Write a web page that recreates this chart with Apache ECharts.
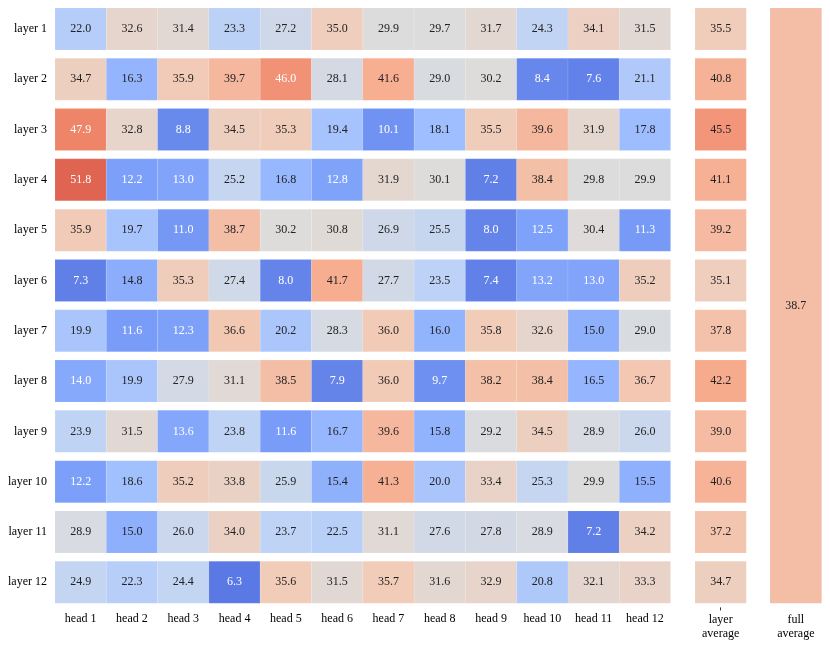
<!DOCTYPE html>
<html>
<head>
<meta charset="utf-8">
<script src="https://cdn.jsdelivr.net/npm/echarts@6/dist/echarts.min.js"></script>
<style>html,body{margin:0;padding:0;background:#fff;}#c{width:830px;height:645px;}</style>
</head>
<body>
<div id="c"></div>
<script>
const heads = ['head 1','head 2','head 3','head 4','head 5','head 6','head 7','head 8','head 9','head 10','head 11','head 12'];
const layers = ['layer 1','layer 2','layer 3','layer 4','layer 5','layer 6','layer 7','layer 8','layer 9','layer 10','layer 11','layer 12'];
const values = [
  [22.0, 32.6, 31.4, 23.3, 27.2, 35.0, 29.9, 29.7, 31.7, 24.3, 34.1, 31.5],
  [34.7, 16.3, 35.9, 39.7, 46.0, 28.1, 41.6, 29.0, 30.2, 8.4, 7.6, 21.1],
  [47.9, 32.8, 8.8, 34.5, 35.3, 19.4, 10.1, 18.1, 35.5, 39.6, 31.9, 17.8],
  [51.8, 12.2, 13.0, 25.2, 16.8, 12.8, 31.9, 30.1, 7.2, 38.4, 29.8, 29.9],
  [35.9, 19.7, 11.0, 38.7, 30.2, 30.8, 26.9, 25.5, 8.0, 12.5, 30.4, 11.3],
  [7.3, 14.8, 35.3, 27.4, 8.0, 41.7, 27.7, 23.5, 7.4, 13.2, 13.0, 35.2],
  [19.9, 11.6, 12.3, 36.6, 20.2, 28.3, 36.0, 16.0, 35.8, 32.6, 15.0, 29.0],
  [14.0, 19.9, 27.9, 31.1, 38.5, 7.9, 36.0, 9.7, 38.2, 38.4, 16.5, 36.7],
  [23.9, 31.5, 13.6, 23.8, 11.6, 16.7, 39.6, 15.8, 29.2, 34.5, 28.9, 26.0],
  [12.2, 18.6, 35.2, 33.8, 25.9, 15.4, 41.3, 20.0, 33.4, 25.3, 29.9, 15.5],
  [28.9, 15.0, 26.0, 34.0, 23.7, 22.5, 31.1, 27.6, 27.8, 28.9, 7.2, 34.2],
  [24.9, 22.3, 24.4, 6.3, 35.6, 31.5, 35.7, 31.6, 32.9, 20.8, 32.1, 33.3]
];
const layerAverage = [35.5, 40.8, 45.5, 41.1, 39.2, 35.1, 37.8, 42.2, 39.0, 40.6, 37.2, 34.7];
const fullAverage = 38.7;
const layerAvgLabel = ['layer\naverage'];
const fullAvgLabel = ['full\naverage'];

const FONT = '"Liberation Serif", "DejaVu Serif", serif';
const GAP = 8.3;

const mainData = [];
values.forEach((row, r) => row.forEach((v, c) => mainData.push([c, r, v])));
const avgData = layerAverage.map((v, r) => [0, r, v]);
const fullData = [[0, 0, fullAverage]];

function renderCell(params, api) {
  const x = api.value(0), y = api.value(1), v = api.value(2);
  const p = api.coord([x, y]);
  const s = api.size([1, 1]);
  const w = s[0], h = s[1] - GAP;
  const txtColor = (v < 14.4 || v > 45.8) ? '#ffffff' : '#222222';
  return {
    type: 'group',
    children: [
      { type: 'rect', shape: { x: p[0] - w / 2, y: p[1] - h / 2, width: w, height: h },
        style: { fill: api.visual('color'), stroke: 'rgba(255,255,255,0.18)', lineWidth: 0.6 } },
      { type: 'text', style: { x: p[0], y: p[1], text: v.toFixed(1), fill: txtColor,
        font: '12px ' + FONT, align: 'center', verticalAlign: 'middle' } }
    ]
  };
}

const axisCommon = {
  axisLine: { show: false }, axisTick: { show: false }, splitLine: { show: false },
  axisLabel: { color: '#000', fontFamily: FONT, fontSize: 12 }
};

const option = {
  backgroundColor: '#fff',
  animation: false,
  grid: [
    { left: 55, top: 3.8, width: 615.6, height: 603.6 },
    { left: 695, top: 3.8, width: 51.3, height: 603.6 },
    { left: 770, top: 3.8, width: 51.7, height: 603.6 }
  ],
  xAxis: [
    Object.assign({}, axisCommon, { type: 'category', gridIndex: 0, data: heads,
      axisLabel: Object.assign({}, axisCommon.axisLabel, { margin: 5, interval: 0 }) }),
    Object.assign({}, axisCommon, { type: 'category', gridIndex: 1, data: layerAvgLabel,
      axisTick: { show: true, length: 3, alignWithLabel: true, lineStyle: { color: '#333', width: 1 } },
      axisLabel: Object.assign({}, axisCommon.axisLabel, { margin: 5, lineHeight: 14 }) }),
    Object.assign({}, axisCommon, { type: 'category', gridIndex: 2, data: fullAvgLabel,
      axisLabel: Object.assign({}, axisCommon.axisLabel, { margin: 5, lineHeight: 14 }) })
  ],
  yAxis: [
    Object.assign({}, axisCommon, { type: 'category', gridIndex: 0, data: layers, inverse: true,
      axisLabel: Object.assign({}, axisCommon.axisLabel, { margin: 8, interval: 0 }) }),
    Object.assign({}, axisCommon, { type: 'category', gridIndex: 1, data: layers, inverse: true,
      axisLabel: { show: false } }),
    Object.assign({}, axisCommon, { type: 'category', gridIndex: 2, data: ['all'], inverse: true,
      axisLabel: { show: false } })
  ],
  visualMap: {
    show: false, type: 'continuous', min: 0, max: 60, dimension: 2, seriesIndex: [0, 1, 2],
    inRange: { color: ['#3b4cc0', '#5977e3', '#7b9ff9', '#9ebeff', '#c0d4f5', '#dddcdc',
      '#f2cbb7', '#f7ac8e', '#ee8468', '#d65244', '#b40426'] }
  },
  series: [
    { type: 'custom', xAxisIndex: 0, yAxisIndex: 0, data: mainData, renderItem: renderCell, encode: { x: 0, y: 1 } },
    { type: 'custom', xAxisIndex: 1, yAxisIndex: 1, data: avgData, renderItem: renderCell, encode: { x: 0, y: 1 } },
    { type: 'custom', xAxisIndex: 2, yAxisIndex: 2, data: fullData, renderItem: renderCell, encode: { x: 0, y: 1 } }
  ]
};

const chart = echarts.init(document.getElementById('c'));
chart.setOption(option);
</script>
</body>
</html>
